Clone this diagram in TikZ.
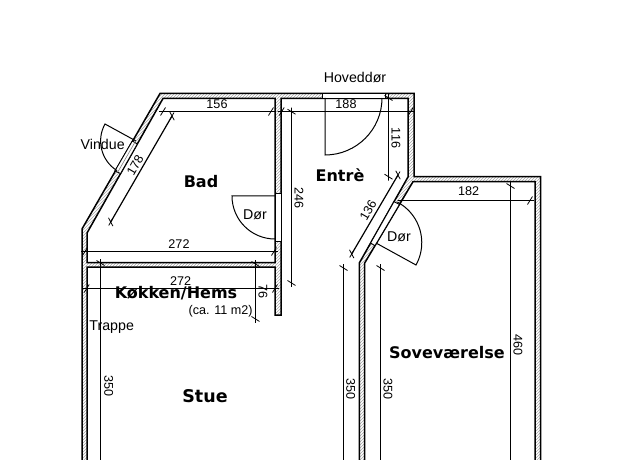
\documentclass[tikz,border=0pt]{standalone}
\usepackage{fontspec}
\setmainfont{Liberation Sans}
\newfontfamily\roomfont{DejaVu Sans}
\usetikzlibrary{patterns,decorations.markings}
\tikzset{
  wall/.style={line width=1.5pt,line join=miter,pattern=north east lines,pattern color=gray!70},
  opening/.style={line width=0.9pt,fill=white},
  swing/.style={line width=1pt},
  dimline/.style={line width=1.2pt,postaction={decorate},decoration={markings,
    mark=at position 0 with {\draw[line width=0.8pt] (-4pt,0pt)--(4pt,0pt) (-2.5pt,-4pt)--(2.5pt,4pt);},
    mark=at position 0.9999 with {\draw[line width=0.8pt] (-4pt,0pt)--(4pt,0pt) (-2.5pt,-4pt)--(2.5pt,4pt);}}},
  roomlabel/.style={font=\roomfont\bfseries\fontsize{16}{18}\selectfont,inner sep=0pt},
  textlabel/.style={font=\fontsize{14.2}{16}\selectfont,inner sep=0pt},
  dimlabel/.style={font=\fontsize{12.6}{14}\selectfont,inner sep=0pt}
}
\begin{document}
\begin{tikzpicture}[x=1pt,y=-1pt]
\useasboundingbox (0,0) rectangle (625,460);
\clip (0,0) rectangle (625,460);
% walls
\draw[wall,even odd rule] (82,470)--(82,229)--(160,93.5)--(414,93.5)--(414,176.7)--(540.7,176.7)--(540.7,470)
  --(535,470)--(535,181.7)--(413,181.7)--(364.7,263)--(364.7,470)--(359.3,470)--(359.3,263)--(408,177)--(408,98.5)
  --(281,98.5)--(281,315)--(275,315)--(275,267)--(87,267)--(87,470)--cycle
  (163,98.5)--(275,98.5)--(275,262.5)--(87,262.5)--(87,233)--cycle;
% openings
\draw[opening,line width=0.4pt] (322,93.5) rectangle (385,98.5);
\draw[line width=1.2pt] (322,98.5)--(385,98.5);
\draw[opening] (275,193) rectangle (281,241.7);
\draw[opening] (394,201.7)--(399.5,204.4)--(375,245.7)--(370.6,243)--cycle;
\draw[opening] (132.3,141)--(137.3,144)--(120.6,173.5)--(114.8,171)--cycle;
\draw[line width=0.6pt,gray] (134.8,142.5)--(117.7,172.2);
% doors and window
\draw[swing] (275,196)--(232,196) arc[start angle=180,end angle=90,radius=43];
\draw[swing] (325,98)--(325,155) arc[start angle=90,end angle=0,radius=57];
\draw[swing] (376,243)--(416,265) arc[start angle=29,end angle=-62,radius=46];
\draw[swing] (136,141)--(105,124) arc[start angle=209,end angle=122,radius=35];
% dimensions
\draw[dimline] (163,111.5)--(271,111.5);
\draw[dimline] (172,116)--(110.7,222);
\draw[dimline] (85,251.5)--(274,251.5);
\draw[dimline] (281.7,111.5)--(410.7,111.5);
\draw[dimline] (388.5,98)--(388.5,176.7);
\draw[dimline] (291.5,111.7)--(291.5,283);
\draw[dimline] (398,175)--(351.7,254);
\draw[dimline] (401.7,200.5)--(530,200.5);
\draw[dimline] (510.5,186)--(510.5,480);
\draw[dimline] (343.5,268)--(343.5,480);
\draw[dimline] (380.5,268)--(380.5,480);
\draw[dimline] (100.5,263)--(100.5,480);
\draw[dimline] (86.7,288.5)--(275,288.5);
\draw[dimline] (255.5,264)--(255.5,319);
% labels
\node[textlabel] (hoveddor) at (355,77) {Hoveddør};
\node[textlabel] (vindue) at (102.7,144) {Vindue};
\node[textlabel] (trappe) at (111.7,327) {Trappe};
\node[textlabel] (badedor) at (255,215) {Dør};
\node[textlabel] (sovedor) at (399,237) {Dør};
\node[dimlabel] (areal) at (220.7,311) {(ca. 11 m2)};
\node[roomlabel] (bad) at (201,181.7) {Bad};
\node[roomlabel] (entre) at (340,175) {Entrè};
\node[roomlabel] (kokken) at (176,293) {Køkken/Hems};
\node[roomlabel,font=\roomfont\bfseries\fontsize{17.5}{20}\selectfont] (stue) at (205,395.7) {Stue};
\node[roomlabel] (sove) at (447,353) {Soveværelse};
\node[dimlabel] (mala) at (217,104) {156};
\node[dimlabel,rotate=60] (malb) at (135,165) {178};
\node[dimlabel] (malc) at (179,243.7) {272};
\node[dimlabel] (mald) at (346,104) {188};
\node[dimlabel,rotate=-90] (male) at (396,138) {116};
\node[dimlabel,rotate=-90] (malf) at (299,198) {246};
\node[dimlabel,rotate=60] (malg) at (368,210.7) {136};
\node[dimlabel] (malh) at (468.7,191) {182};
\node[dimlabel] (mali) at (180.7,281) {272};
\node[dimlabel,rotate=-90] (malj) at (263,291.7) {76};
\node[dimlabel,rotate=-90] (malk) at (108.7,386) {350};
\node[dimlabel,rotate=-90] (mall) at (350.7,389) {350};
\node[dimlabel,rotate=-90] (malm) at (388,389) {350};
\node[dimlabel,rotate=-90] (maln) at (518,345) {460};
\end{tikzpicture}
\end{document}
